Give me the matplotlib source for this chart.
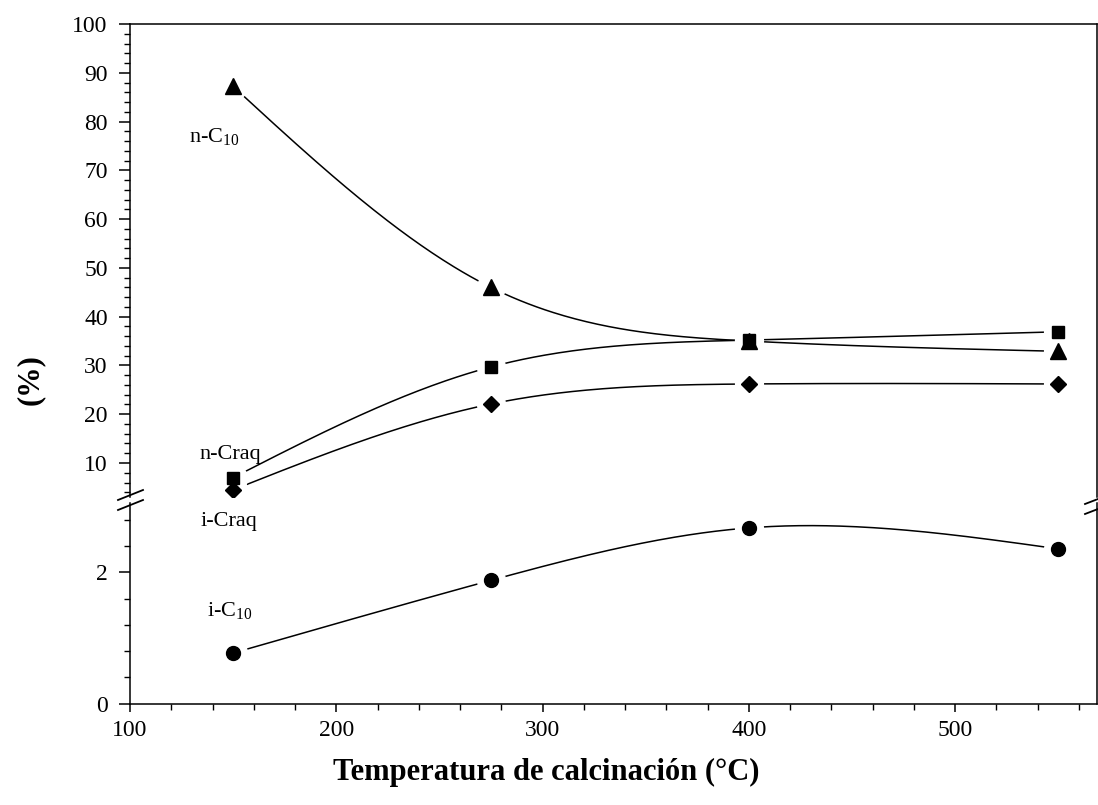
import numpy as np
import matplotlib
matplotlib.use('Agg')
import matplotlib.pyplot as plt
from matplotlib.ticker import MultipleLocator
from matplotlib.lines import Line2D

# ---------------- data ----------------
temps = [150, 275, 400, 550]
n_c10 = [87.2, 46.0, 35.0, 32.9]
n_craq = [7.0, 29.7, 35.2, 36.9]
i_craq = [4.5, 22.1, 26.2, 26.2]
i_c10 = [0.77, 1.88, 2.68, 2.36]

x_ticks = [100, 200, 300, 400, 500]
upper_yticks = [10, 20, 30, 40, 50, 60, 70, 80, 90, 100]
lower_yticks = [0, 2]

plt.rcParams['font.family'] = ['Liberation Serif', 'DejaVu Serif']
plt.rcParams['mathtext.fontset'] = 'custom'
plt.rcParams['mathtext.rm'] = 'Liberation Serif'
plt.rcParams['mathtext.it'] = 'Liberation Serif'


def natural_spline(x, y, xs):
    x = np.asarray(x, float)
    y = np.asarray(y, float)
    n = len(x)
    h = np.diff(x)
    A = np.zeros((n, n))
    b = np.zeros(n)
    A[0, 0] = 1
    A[-1, -1] = 1
    for i in range(1, n - 1):
        A[i, i - 1] = h[i - 1]
        A[i, i] = 2 * (h[i - 1] + h[i])
        A[i, i + 1] = h[i]
        b[i] = 6 * ((y[i + 1] - y[i]) / h[i] - (y[i] - y[i - 1]) / h[i - 1])
    M = np.linalg.solve(A, b)
    out = np.empty_like(xs)
    for k, xv in enumerate(xs):
        i = min(np.searchsorted(x, xv, side='right') - 1, n - 2)
        i = max(i, 0)
        t1 = x[i + 1] - xv
        t0 = xv - x[i]
        hi = h[i]
        out[k] = (M[i] * t1 ** 3 + M[i + 1] * t0 ** 3) / (6 * hi) \
            + (y[i] / hi - M[i] * hi / 6) * t1 + (y[i + 1] / hi - M[i + 1] * hi / 6) * t0
    return out


W, H = 1098, 805
fig = plt.figure(figsize=(W / 100, H / 100), dpi=100)
left = 130 / W
width = 967 / W
ax_top = fig.add_axes([left, 1 - 497 / H, width, (497 - 24) / H])
ax_bot = fig.add_axes([left, 1 - 703.5 / H, width, (703.5 - 503) / H])

xs = np.linspace(temps[0], temps[-1], 300)

def draw(ax, vals):
    ax.plot(xs, natural_spline(temps, vals, xs), color='black', lw=1.1, zorder=2)
    ax.plot(temps, vals, ls='none', marker='o', ms=20, mfc='white', mec='white', zorder=3)

draw(ax_top, n_c10)
draw(ax_top, n_craq)
draw(ax_top, i_craq)
draw(ax_bot, i_c10)
ax_top.plot(temps, n_c10, ls='none', marker='^', ms=11, color='black', zorder=4)
ax_top.plot(temps, n_craq, ls='none', marker='s', ms=8, color='black', zorder=5)
ax_top.plot(temps, i_craq, ls='none', marker='D', ms=8.5, color='black', zorder=4)
ax_bot.plot(temps, i_c10, ls='none', marker='o', ms=10, color='black', zorder=4)

for ax in (ax_top, ax_bot):
    ax.set_xlim(100, 568.8)
    for s in ax.spines.values():
        s.set_linewidth(1.1)

ax_top.set_ylim(3.03, 100)
ax_bot.set_ylim(0, 3.06)

ax_top.spines['bottom'].set_visible(False)
ax_bot.spines['top'].set_visible(False)
ax_top.tick_params(axis='x', which='both', bottom=False, labelbottom=False)

ax_top.set_yticks(upper_yticks)
ax_top.yaxis.set_minor_locator(MultipleLocator(2))
ax_bot.set_yticks(lower_yticks)
ax_bot.yaxis.set_minor_locator(MultipleLocator(0.4))
ax_bot.set_xticks(x_ticks)
ax_bot.xaxis.set_minor_locator(MultipleLocator(20))

for ax in (ax_top, ax_bot):
    ax.tick_params(axis='y', which='major', direction='out', length=8, width=1.1,
                   labelsize=17, pad=8)
    ax.tick_params(axis='y', which='minor', direction='out', length=4, width=1)
ax_bot.tick_params(axis='x', which='major', direction='out', length=6, width=1.1,
                   labelsize=17, pad=6)
ax_bot.tick_params(axis='x', which='minor', direction='out', length=4, width=1)

ax_bot.set_xlabel('Temperatura de calcinación (°C)', fontsize=22, fontweight='bold')
ax_bot.xaxis.set_label_coords(0.43, -0.27)
fig.text(30 / W, 1 - 380 / H, '(%)', rotation=90, fontsize=22, fontweight='bold',
         ha='center', va='center')

# annotations
ax_top.text(141, 77, 'n-C$_{10}$', fontsize=16, ha='center', va='center')
ax_top.text(148.5, 11.7, 'n-Craq', fontsize=16, ha='center', va='center')
ax_bot.text(148, 2.78, 'i-Craq', fontsize=16, ha='center', va='center')
ax_bot.text(148.5, 1.42, 'i-C$_{10}$', fontsize=16, ha='center', va='center')

# break marks
for (x0, x1, y0, y1) in [(118, 143, 500, 490), (118, 143, 510, 500),
                         (1085, 1098, 504, 499), (1085, 1098, 514, 509)]:
    fig.add_artist(Line2D([x0 / W, x1 / W], [1 - y0 / H, 1 - y1 / H], color='black',
                          lw=1.3, transform=fig.transFigure))

fig.savefig('out.png', dpi=100)
